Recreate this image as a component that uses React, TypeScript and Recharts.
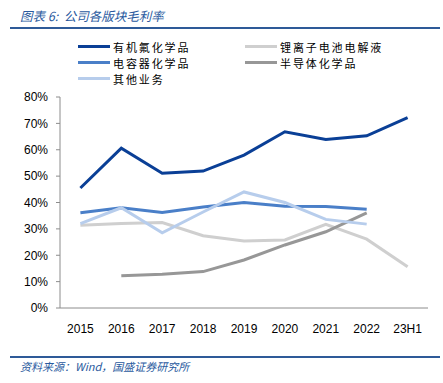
import React from "react";
import { Line, LineChart, XAxis, YAxis } from "recharts";

const categories = ["2015", "2016", "2017", "2018", "2019", "2020", "2021", "2022", "23H1"];

// 毛利率 (%)，null = 无数据
const fluoro = [45.5, 60.6, 51.1, 51.9, 58.0, 66.8, 63.9, 65.3, 72.2];
const electrolyte = [31.4, 32.0, 32.4, 27.4, 25.4, 25.8, 31.7, 26.1, 15.6];
const capacitor = [36.1, 38.0, 36.2, 38.3, 40.0, 38.6, 38.5, 37.4, null];
const semicon = [null, 12.2, 12.8, 13.8, 18.2, 23.9, 28.9, 36.1, null];
const others = [32.0, 38.0, 28.5, 36.4, 44.0, 40.0, 33.6, 31.8, null];

const yTicks = [0, 10, 20, 30, 40, 50, 60, 70, 80];
const boundaryTicks = [0, 1, 2, 3, 4, 5, 6, 7, 8, 9];

const series = [
  { key: "有机氟化学品", values: fluoro, color: "#0a3f96" },
  { key: "锂离子电池电解液", values: electrolyte, color: "#cfcfcf" },
  { key: "电容器化学品", values: capacitor, color: "#4a7fc8" },
  { key: "半导体化学品", values: semicon, color: "#979797" },
  { key: "其他业务", values: others, color: "#b7cdec" },
];

const data = categories.map((c, i) => {
  const row: Record<string, string | number | null> = { name: c, pos: i + 0.5 };
  series.forEach((s) => {
    row[s.key] = s.values[i];
  });
  return row;
});

const cjk = '"Noto Sans CJK SC", "Noto Sans", sans-serif';
const num = '"Liberation Sans", Arial, sans-serif';
const axisGray = "#8c8c8c";

// 类目之间的刻度线，朝上画（Excel 风格）
function BoundaryTick(props: any) {
  const { x, y } = props;
  return <line x1={x} x2={x} y1={y} y2={y - 3.5} stroke={axisGray} strokeWidth={1} />;
}

// 图例：两列排布，和原图一致
function LegendBox() {
  return (
    <div
      style={{
        position: "absolute",
        left: 78,
        top: 39.5,
        display: "grid",
        gridTemplateColumns: "167px 170px",
        rowGap: 2,
        fontFamily: cjk,
        fontSize: 11,
        letterSpacing: 1.9,
        lineHeight: "14px",
        color: "#000",
      }}
    >
      {series.map((s) => (
        <div key={s.key} style={{ display: "flex", alignItems: "center", height: 14 }}>
          <span
            style={{
              display: "inline-block",
              width: 32,
              height: 3,
              background: s.color,
              marginRight: 3,
            }}
          />
          <span style={{ lineHeight: "14px" }}>{s.key}</span>
        </div>
      ))}
    </div>
  );
}

export default function App() {
  return (
    <div
      style={{
        position: "absolute",
        left: 0,
        top: 0,
        width: 443,
        height: 383,
        background: "#fff",
        overflow: "hidden",
      }}
    >
      <div
        style={{
          position: "absolute",
          left: 20,
          top: 6,
          fontFamily: cjk,
          fontStyle: "italic",
          fontSize: 12.5,
          color: "#2a5a9e",
        }}
      >
        图表 6:&nbsp; 公司各版块毛利率
      </div>
      <div
        style={{ position: "absolute", left: 10, top: 27, width: 430, height: 2, background: "#2e5a98" }}
      />

      <LineChart
        width={443}
        height={383}
        data={data}
        margin={{ top: 97, right: 15, bottom: 45, left: 10 }}
        style={{ position: "absolute", left: 0, top: 0 }}
      >
        <XAxis
          xAxisId="grid"
          type="number"
          dataKey="pos"
          domain={[0, 9]}
          ticks={boundaryTicks}
          interval={0}
          height={0}
          axisLine={false}
          tickLine={false}
          tickSize={0}
          tickMargin={0}
          tick={BoundaryTick}
        />
        <XAxis
          dataKey="name"
          padding={{ left: 20.4, right: 20.4 }}
          axisLine={{ stroke: axisGray }}
          tickLine={false}
          tickMargin={10}
          tick={{ fontFamily: num, fontSize: 12, fill: "#000" }}
          interval={0}
        />
        <YAxis
          domain={[0, 80]}
          ticks={yTicks}
          interval={0}
          tickFormatter={(v: number) => `${v}%`}
          width={50}
          axisLine={{ stroke: axisGray }}
          tickLine={{ stroke: axisGray }}
          tickSize={4}
          tickMargin={8}
          tick={{ fontFamily: num, fontSize: 12, fill: "#000" }}
        />
        {series.map((s) => (
          <Line
            key={s.key}
            dataKey={s.key}
            stroke={s.color}
            strokeWidth={3}
            dot={false}
            activeDot={false}
            isAnimationActive={false}
            connectNulls={false}
          />
        ))}
      </LineChart>

      <LegendBox />

      <div
        style={{ position: "absolute", left: 10, top: 356, width: 430, height: 2, background: "#2e5a98" }}
      />
      <div
        style={{
          position: "absolute",
          left: 20,
          top: 358,
          fontFamily: cjk,
          fontStyle: "italic",
          fontSize: 11,
          color: "#2a5a9e",
        }}
      >
        资料来源：Wind，国盛证券研究所
      </div>
    </div>
  );
}
